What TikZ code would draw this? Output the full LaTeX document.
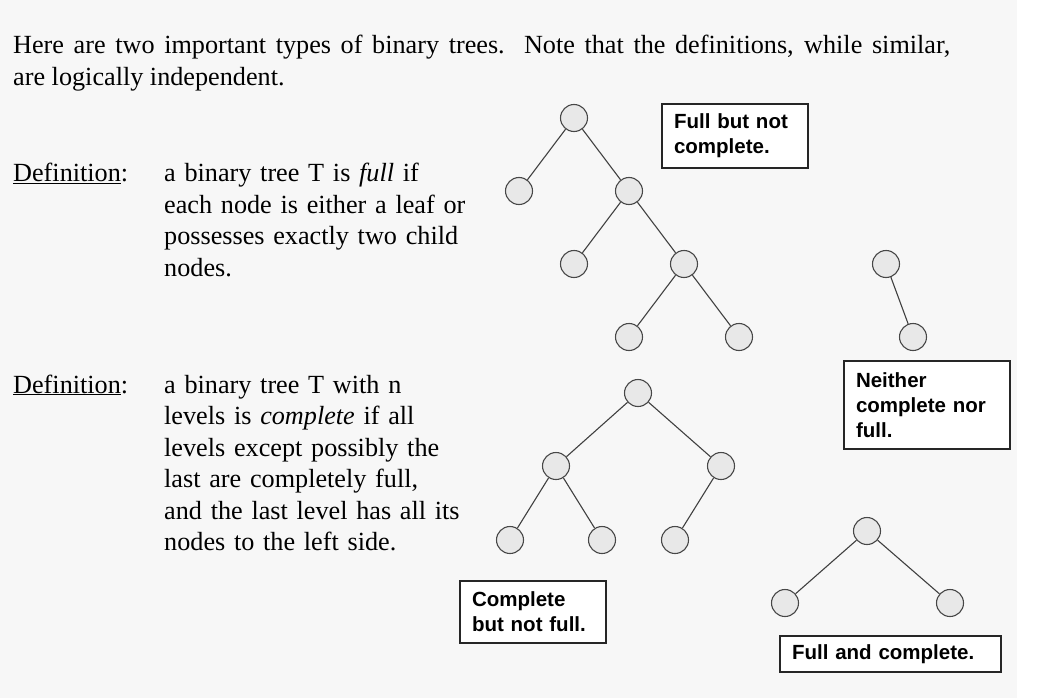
\documentclass[tikz,border=0pt]{standalone}
\usepackage{fontspec}
\setmainfont{Liberation Serif}
\newfontfamily\tagfont{Liberation Sans}
\usetikzlibrary{positioning}

\begin{document}
\begin{tikzpicture}[x=1pt, y=-1pt,
  vertex/.style={circle, draw=black!72, fill=black!9, line width=1.1pt, minimum size=27pt, inner sep=0pt},
  branch/.style={draw=black!75, line width=1.1pt},
  tag/.style={draw=black!85, fill=white, line width=1.2pt, align=left, inner xsep=12pt, inner ysep=0pt,
    font=\tagfont\bfseries\fontsize{20.5}{25}\selectfont},
  para/.style={anchor=base west, inner sep=0pt, align=left, font=\fontsize{26.2}{31.5}\selectfont}]
\fill[black!3] (0,0) rectangle (1017,698);
\useasboundingbox (0,0) rectangle (1051,698);

% text
\node[para, align=justify, text width=937pt] (intro) at (13,54) {Here are two important types of binary trees.\ \ Note that the definitions, while similar,\linebreak are logically independent.};
\node[para] (defA) at (13,181.5) {\underline{Definition}:};
\node[para, text width=340pt] (fullA) at (164,181.5) {a binary tree T is \textit{full} if\\each node is either a leaf or\\possesses exactly two child\\nodes.};
\node[para] (defB) at (13,393) {\underline{Definition}:};
\node[para, text width=340pt] (fullB) at (164,393) {a binary tree T with n\\levels is \textit{complete} if all\\levels except possibly the\\last are completely full,\\and the last level has all its\\nodes to the left side.};

% trees
\foreach \n/\x/\y in {a0/574/118, a1/519/191, a2/629/191, a3/574/264, a4/684/264, a5/629/337, a6/739/337,
                      b0/886/264, b1/913/337,
                      c0/638/393, c1/556/466, c2/721/466, c3/510/540, c4/602/540, c5/675/540,
                      d0/867/531, d1/785/603, d2/950/603}
  \node[vertex] (\n) at (\x,\y) {};
\foreach \u/\v in {a0/a1, a0/a2, a2/a3, a2/a4, a4/a5, a4/a6, b0/b1,
                   c0/c1, c0/c2, c1/c3, c1/c4, c2/c5, d0/d1, d0/d2}
  \draw[branch] (\u) -- (\v);

% labels
\node[tag, text width=122pt, minimum height=64pt] (tagA) at (735,136) {Full but not\\complete.};
\node[tag, text width=142pt, minimum height=88pt] (tagB) at (927,405) {Neither\\complete nor\\full.};
\node[tag, text width=122pt, minimum height=62pt] (tagC) at (533,612) {Complete\\but not full.};
\node[tag, text width=197pt, minimum height=36pt] (tagD) at (890.5,654) {Full and complete.};
\end{tikzpicture}
\end{document}
